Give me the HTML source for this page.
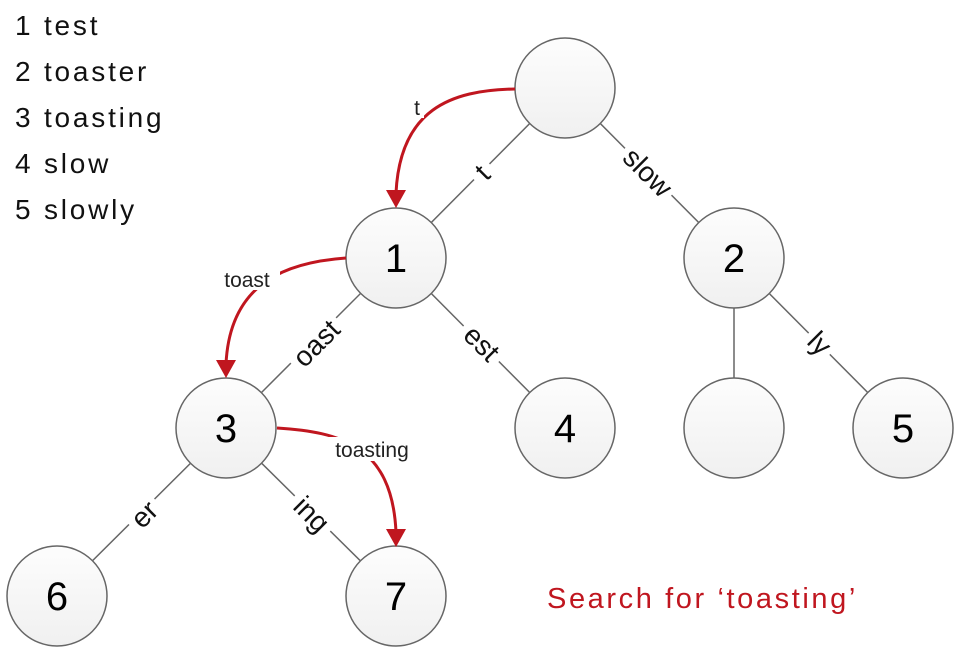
<!DOCTYPE html>
<html><head><meta charset="utf-8"><style>
html,body{margin:0;padding:0;background:#fff;}
svg{display:block;font-family:"Liberation Sans",sans-serif;}
</style></head><body>
<svg width="972" height="666" viewBox="0 0 972 666" xmlns="http://www.w3.org/2000/svg">
<defs>
<linearGradient id="g" x1="0" y1="0" x2="0" y2="1">
<stop offset="0" stop-color="#fdfdfd"/><stop offset="1" stop-color="#f0f0f0"/>
</linearGradient>
</defs>
<g font-size="28" fill="#111" letter-spacing="2.8">
<text x="15" y="35">1 test</text>
<text x="15" y="81">2 toaster</text>
<text x="15" y="127">3 toasting</text>
<text x="15" y="173">4 slow</text>
<text x="15" y="219">5 slowly</text>
</g>
<g stroke="#666" stroke-width="1.5">
<line x1="565" y1="88" x2="396" y2="258"/>
<line x1="565" y1="88" x2="734" y2="258"/>
<line x1="396" y1="258" x2="226" y2="428"/>
<line x1="396" y1="258" x2="565" y2="428"/>
<line x1="734" y1="258" x2="734" y2="428"/>
<line x1="734" y1="258" x2="903" y2="428"/>
<line x1="226" y1="428" x2="57" y2="596"/>
<line x1="226" y1="428" x2="396" y2="596"/>
</g>
<g font-size="28" fill="#111" text-anchor="middle">
<g transform="translate(482,172) rotate(-45)"><rect x="-11" y="-15" width="22" height="28" fill="#fff"/><text y="10">t</text></g>
<g transform="translate(648,172) rotate(45)"><rect x="-33" y="-15" width="66" height="28" fill="#fff"/><text y="10">slow</text></g>
<g transform="translate(316,343) rotate(-45)"><rect x="-32" y="-15" width="64" height="28" fill="#fff"/><text y="10">oast</text></g>
<g transform="translate(482,343) rotate(45)"><rect x="-25" y="-15" width="50" height="28" fill="#fff"/><text y="10">est</text></g>
<g transform="translate(820,343) rotate(45)"><rect x="-15" y="-15" width="30" height="28" fill="#fff"/><text y="10">ly</text></g>
<g transform="translate(144,514) rotate(-45)"><rect x="-18" y="-15" width="36" height="28" fill="#fff"/><text y="10">er</text></g>
<g transform="translate(312,514) rotate(45)"><rect x="-25" y="-15" width="50" height="28" fill="#fff"/><text y="10">ing</text></g>
</g>
<g fill="url(#g)" stroke="#666" stroke-width="1.5">
<circle cx="565" cy="88" r="50"/>
<circle cx="396" cy="258" r="50"/>
<circle cx="734" cy="258" r="50"/>
<circle cx="226" cy="428" r="50"/>
<circle cx="565" cy="428" r="50"/>
<circle cx="734" cy="428" r="50"/>
<circle cx="903" cy="428" r="50"/>
<circle cx="57" cy="596" r="50"/>
<circle cx="396" cy="596" r="50"/>
</g>
<g font-size="40" fill="#000" text-anchor="middle">
<text x="396" y="272">1</text>
<text x="734" y="272">2</text>
<text x="226" y="442">3</text>
<text x="565" y="442">4</text>
<text x="903" y="442">5</text>
<text x="57" y="610">6</text>
<text x="396" y="610">7</text>
</g>
<g stroke="#c0161f" stroke-width="3" fill="none">
<path d="M515 89 C450 90 400 110 396 193"/>
<path d="M346 258 C290 262 230 280 226 364"/>
<path d="M277 428 C340 432 392 445 396 532"/>
</g>
<g fill="#c0161f">
<polygon points="386,190 406,190 396,208"/>
<polygon points="216,360 236,360 226,378"/>
<polygon points="386,529 406,529 396,547"/>
</g>
<g fill="#222" text-anchor="middle" font-size="21">
<rect x="408" y="94" width="16" height="24" fill="#fff"/>
<text x="417" y="115">t</text>
<rect x="214" y="266" width="66" height="24" fill="#fff"/>
<text x="247" y="287">toast</text>
<rect x="320" y="437" width="104" height="24" fill="#fff"/>
<text x="372" y="457">toasting</text>
</g>
<text x="547" y="608" font-size="29" fill="#c0161f" letter-spacing="2.6">Search for ‘toasting’</text>
</svg>
</body></html>
